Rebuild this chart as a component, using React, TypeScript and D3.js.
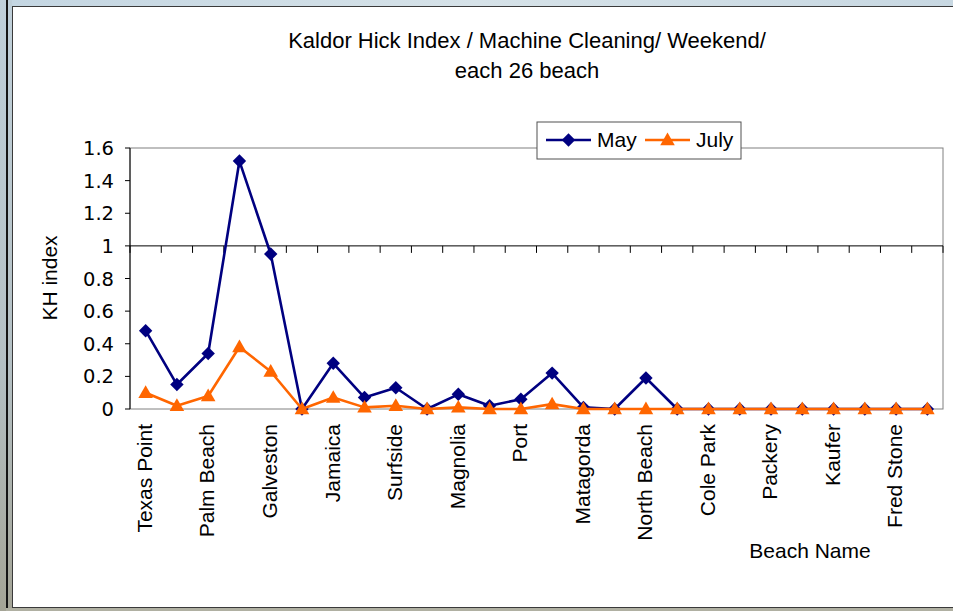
import React from "react";
import * as d3 from "d3";

const categories = [
  "Texas Point", "", "Palm Beach", "", "Galveston", "", "Jamaica", "", "Surfside", "",
  "Magnolia", "", "Port", "", "Matagorda", "", "North Beach", "", "Cole Park", "",
  "Packery", "", "Kaufer", "", "Fred Stone", "",
];
const mayValues = [
  0.48, 0.15, 0.34, 1.52, 0.95, 0, 0.28, 0.07, 0.13, 0,
  0.09, 0.02, 0.06, 0.22, 0.01, 0, 0.19, 0, 0, 0,
  0, 0, 0, 0, 0, 0,
];
const julyValues = [
  0.10, 0.02, 0.08, 0.38, 0.23, 0, 0.07, 0.01, 0.02, 0,
  0.01, 0, 0, 0.03, 0, 0, 0, 0, 0, 0,
  0, 0, 0, 0, 0, 0,
];
const yTickValues = [0, 0.2, 0.4, 0.6, 0.8, 1, 1.2, 1.4, 1.6];
const titleLines = ["Kaldor Hick Index / Machine Cleaning/ Weekend/", "each 26 beach"];
const seriesNames = ["May", "July"];

const W = 953;
const H = 611;
const plot = { left: 130, right: 943, top: 148, bottom: 409 };
const MAY = "#000080";
const JULY = "#FF6600";
const SANS = "'Liberation Sans', Arial, sans-serif";
const TICKFONT = "'DejaVu Sans', Verdana, sans-serif";

export default function App() {
  const idx = d3.range(categories.length);
  const x = d3.scaleBand<number>().domain(idx).range([plot.left, plot.right]).padding(0);
  const cx = (i: number) => (x(i) as number) + x.bandwidth() / 2;
  const y = d3.scaleLinear().domain([0, 1.6]).range([plot.bottom, plot.top]);
  const crossY = y(1);

  const line = d3.line<number>().x((_, i) => cx(i)).y((d) => y(d));
  const diamond = d3.symbol(d3.symbolSquare, 90)() as string;
  const triangle = d3.symbol(d3.symbolTriangle, 92)() as string;

  const boundaries = d3.range(categories.length + 1).map((i) =>
    i < categories.length ? (x(i) as number) : plot.right
  );

  const series = [
    { name: seriesNames[0], values: mayValues, color: MAY, kind: "diamond" },
    { name: seriesNames[1], values: julyValues, color: JULY, kind: "triangle" },
  ];

  const marker = (kind: string, color: string, px: number, py: number, key?: any) =>
    kind === "diamond" ? (
      <path key={key} d={diamond} fill={color} transform={`translate(${px},${py}) rotate(45)`} />
    ) : (
      <path key={key} d={triangle} fill={color} transform={`translate(${px},${py + 1})`} />
    );

  const legendItems = [
    { name: series[0].name, color: MAY, kind: "diamond", x0: 546 },
    { name: series[1].name, color: JULY, kind: "triangle", x0: 645 },
  ];

  return (
    <svg
      width={W}
      height={H}
      style={{ position: "absolute", left: 0, top: 0, display: "block" }}
    >
      <defs>
        <linearGradient id="topband" x1="0" y1="0" x2="1" y2="0">
          <stop offset="0" stopColor="#c4d6e2" />
          <stop offset="0.5" stopColor="#d6e2e8" />
          <stop offset="1" stopColor="#c8d8e2" />
        </linearGradient>
        <linearGradient id="sideband" x1="0" y1="0" x2="0" y2="1">
          <stop offset="0" stopColor="#c0d0da" />
          <stop offset="0.6" stopColor="#b4c0c4" />
          <stop offset="1" stopColor="#a4a496" />
        </linearGradient>
      </defs>
      {/* window frame */}
      <rect x={0} y={0} width={W} height={H} fill="url(#topband)" />
      <rect x={0} y={0} width={6} height={H} fill="url(#sideband)" />
      <rect x={6} y={0} width={2} height={H} fill="#151515" />
      <rect x={8} y={0} width={4} height={H} fill="url(#sideband)" />
      <rect x={12} y={6} width={W - 12} height={602} fill="#3a3a3a" />
      <rect x={13} y={7} width={W - 13} height={600} fill="#ffffff" />
      <rect x={6} y={608} width={W - 6} height={3} fill="#b0b0a2" />

      {/* title */}
      {titleLines.map((t, i) => (
        <text
          key={i}
          x={527}
          y={48 + i * 30}
          textAnchor="middle"
          fontFamily={SANS}
          fontSize={22}
          fill="#000"
        >
          {t}
        </text>
      ))}

      {/* plot frame */}
      <rect
        x={plot.left}
        y={plot.top}
        width={plot.right - plot.left}
        height={plot.bottom - plot.top}
        fill="none"
        stroke="#808080"
        strokeWidth={1}
      />

      {/* y axis */}
      <line x1={plot.left} x2={plot.left} y1={plot.top} y2={plot.bottom} stroke="#000" strokeWidth={1} />
      {yTickValues.map((v) => (
        <g key={v}>
          <line x1={plot.left - 5} x2={plot.left} y1={y(v)} y2={y(v)} stroke="#000" />
          <text
            x={114}
            y={y(v)}
            dy="0.36em"
            textAnchor="end"
            fontFamily={TICKFONT}
            fontSize={19.5}
            fill="#000"
          >
            {String(v)}
          </text>
        </g>
      ))}

      {/* category axis crossing at 1 */}
      <line x1={plot.left} x2={plot.right} y1={crossY} y2={crossY} stroke="#000" strokeWidth={1} />
      {boundaries.map((bx, i) => (
        <line key={i} x1={bx} x2={bx} y1={crossY} y2={crossY + 7} stroke="#000" />
      ))}

      {/* series */}
      {series.map((s) => (
        <g key={s.name}>
          <path d={line(s.values) as string} fill="none" stroke={s.color} strokeWidth={2.6} strokeLinejoin="round" />
          {s.values.map((v, i) => marker(s.kind, s.color, cx(i), y(v), i))}
        </g>
      ))}

      {/* category labels */}
      {categories.map((c, i) =>
        c ? (
          <text
            key={i}
            transform={`translate(${cx(i)},${424}) rotate(-90)`}
            dy="0.3em"
            textAnchor="end"
            fontFamily={SANS}
            fontSize={21}
            fill="#000"
          >
            {c}
          </text>
        ) : null
      )}

      {/* axis titles */}
      <text
        transform={`translate(57,278) rotate(-90)`}
        textAnchor="middle"
        fontFamily={SANS}
        fontSize={21}
        fill="#000"
      >
        KH index
      </text>
      <text x={810} y={558} textAnchor="middle" fontFamily={SANS} fontSize={21} fill="#000">
        Beach Name
      </text>

      {/* legend */}
      <rect x={537} y={122} width={204} height={37} fill="#fff" stroke="#505050" strokeWidth={1} />
      {legendItems.map((it) => (
        <g key={it.name}>
          <line x1={it.x0} x2={it.x0 + 45} y1={140} y2={140} stroke={it.color} strokeWidth={2.6} />
          {marker(it.kind, it.color, it.x0 + 22.5, 140)}
          <text x={it.x0 + 51} y={147} fontFamily={SANS} fontSize={21} fill="#000">
            {it.name}
          </text>
        </g>
      ))}
    </svg>
  );
}
